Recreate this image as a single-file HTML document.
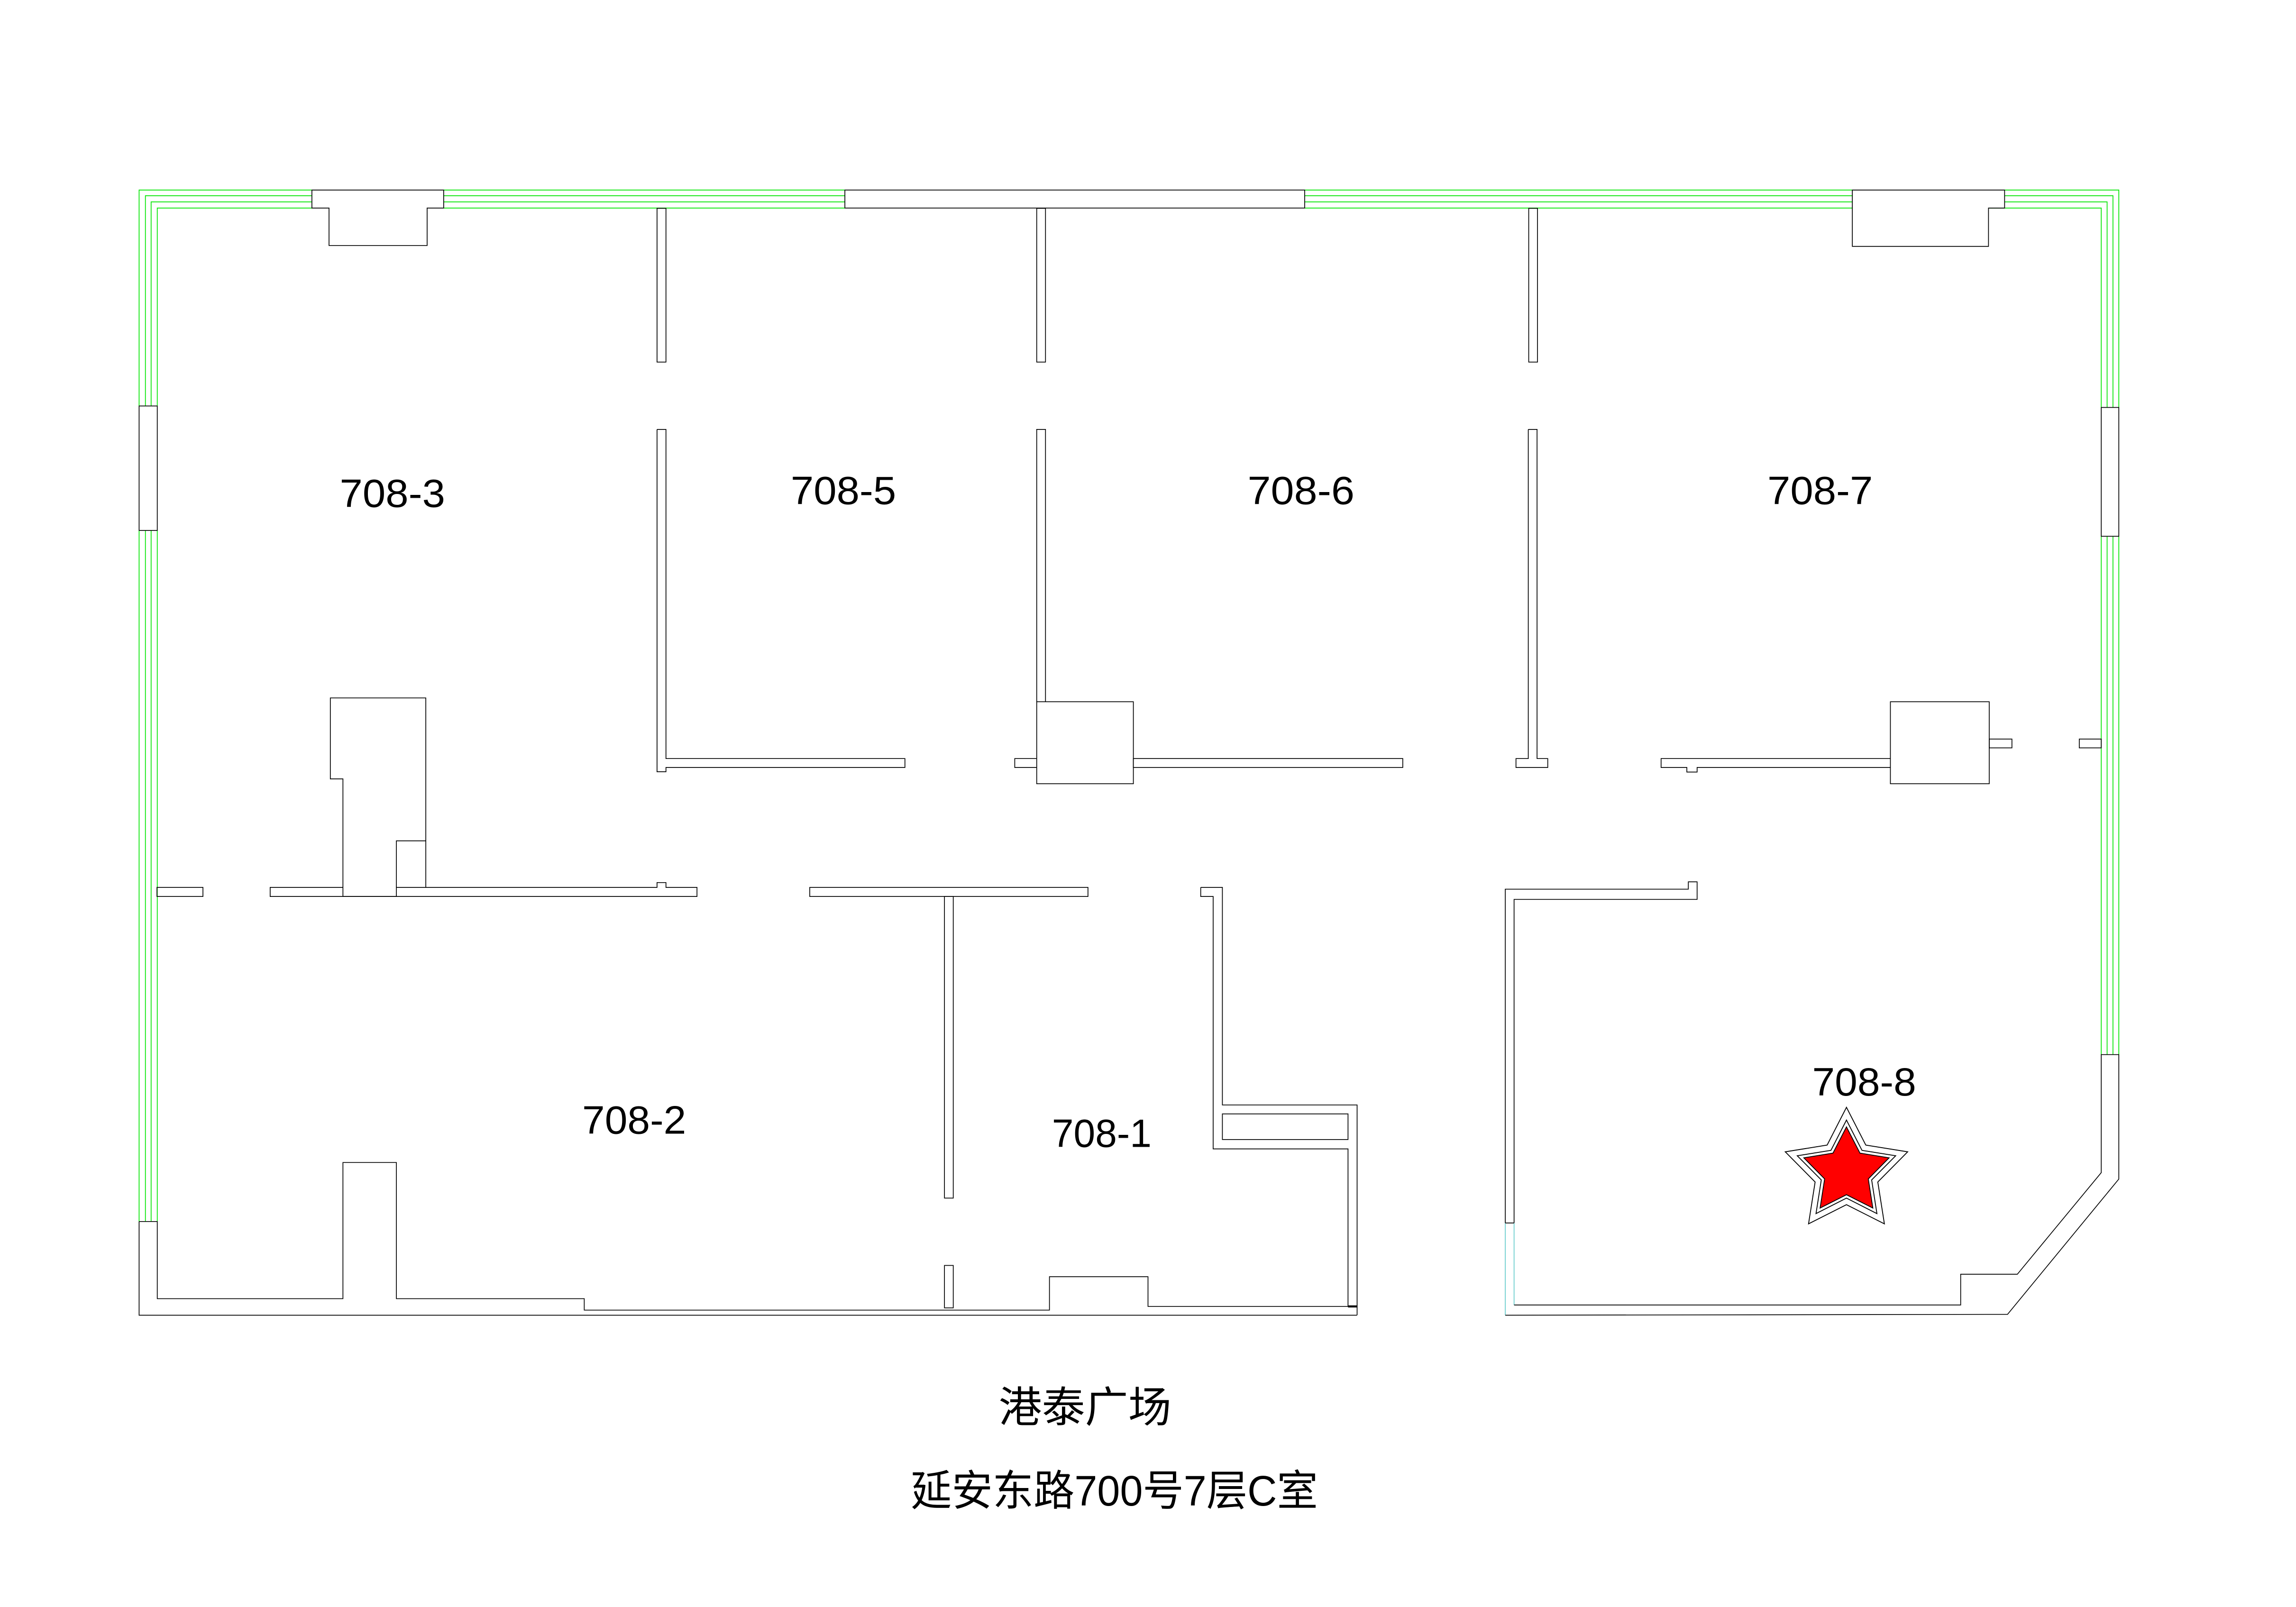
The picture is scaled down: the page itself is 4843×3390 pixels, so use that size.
<!DOCTYPE html>
<html><head><meta charset="utf-8"><style>
html,body{margin:0;padding:0;background:#fff;}
svg{display:block;}
text{font-family:"Liberation Sans","Noto Sans CJK SC",sans-serif;fill:#000;}
</style></head><body>
<svg width="4843" height="3390" viewBox="0 0 1568 1097" xmlns="http://www.w3.org/2000/svg">
<rect width="1568" height="1097" fill="#fff"/>
<g fill="none" stroke-width="0.55">
<g stroke="#00e600">
<polyline points="95,277 95,129.5 213,129.5"/>
<polyline points="99.3,277 99.3,133.4 213,133.4"/>
<polyline points="103.2,277 103.2,137.6 213,137.6"/>
<polyline points="107.4,277 107.4,141.8 213,141.8"/>
<line x1="303" y1="129.5" x2="577" y2="129.5"/>
<line x1="303" y1="133.4" x2="577" y2="133.4"/>
<line x1="303" y1="137.6" x2="577" y2="137.6"/>
<line x1="303" y1="141.8" x2="577" y2="141.8"/>
<line x1="891" y1="129.5" x2="1265" y2="129.5"/>
<line x1="891" y1="133.4" x2="1265" y2="133.4"/>
<line x1="891" y1="137.6" x2="1265" y2="137.6"/>
<line x1="891" y1="141.8" x2="1265" y2="141.8"/>
<polyline points="1369,129.5 1447,129.5 1447,278"/>
<polyline points="1369,133.4 1443,133.4 1443,278"/>
<polyline points="1369,137.6 1439,137.6 1439,278"/>
<polyline points="1358,141.8 1435,141.8 1435,278"/>
<line x1="95" y1="362" x2="95" y2="834"/>
<line x1="107.4" y1="362" x2="107.4" y2="834"/>
<line x1="99.3" y1="362" x2="99.3" y2="834"/>
<line x1="103.2" y1="362" x2="103.2" y2="834"/>
<line x1="1435" y1="366" x2="1435" y2="720"/>
<line x1="1439" y1="366" x2="1439" y2="720"/>
<line x1="1443" y1="366" x2="1443" y2="720"/>
<line x1="1447" y1="366" x2="1447" y2="720"/>
</g>
<g stroke="#66cccc"><line x1="1028" y1="835" x2="1028" y2="898"/><line x1="1034" y1="835" x2="1034" y2="891"/></g>
<g stroke="#000">
<polygon points="213,129.5 303,129.5 303,141.8 291.7,141.8 291.7,167.4 224.7,167.4 224.7,141.8 213,141.8"/>
<rect x="577" y="129.5" width="314" height="12.3"/>
<polygon points="1265,129.5 1369,129.5 1369,141.8 1358,141.8 1358,168 1265,168"/>
<rect x="95" y="277" width="12.4" height="85"/>
<rect x="1435" y="278" width="12" height="88"/>
<rect x="448.7" y="142" width="6.1" height="105"/>
<rect x="708" y="142" width="6" height="105"/>
<rect x="1044" y="142" width="6" height="105"/>
<polyline points="448.7,293 454.8,293 454.8,517.8 618,517.8 618,523.9 454.8,523.9 454.8,526.8 448.7,526.8 448.7,293"/>
<polyline points="708,479 708,293 714,293 714,479"/>
<rect x="708" y="479" width="66" height="56"/>
<rect x="774" y="517.8" width="184" height="6.1"/>
<polyline points="708,517.8 693,517.8 693,523.9 708,523.9"/>
<polyline points="1043.7,293 1049.7,293 1049.7,517.8 1057,517.8 1057,523.9 1035.3,523.9 1035.3,517.8 1043.7,517.8 1043.7,293"/>
<polyline points="1291,517.8 1134.4,517.8 1134.4,523.9 1152,523.9 1152,527 1159,527 1159,523.9 1291,523.9"/>
<rect x="1291" y="479" width="67.5" height="56"/>
<rect x="1358.5" y="504.5" width="15.5" height="6"/>
<rect x="1420" y="504.5" width="15" height="6"/>
<rect x="107.2" y="605.8" width="31.4" height="6.2"/>
<polyline points="234.2,605.8 184.5,605.8 184.5,612 476,612 476,605.8 454.8,605.8 454.8,602.5 448.7,602.5 448.7,605.8 290.8,605.8"/>
<polygon points="225.6,476.4 290.8,476.4 290.8,605.8 270.7,605.8 270.7,612 234.2,612 234.2,531.7 225.6,531.7"/>
<polyline points="270.7,605.8 270.7,574 290.8,574"/>
<rect x="553" y="605.8" width="190" height="6.2"/>
<rect x="645" y="612" width="6" height="206"/>
<rect x="645" y="864" width="6" height="29"/>
<polyline points="820,605.8 834.8,605.8 834.8,754.4 926.8,754.4 926.8,897.9"/>
<polyline points="920.6,892 920.6,784.4 828.5,784.4 828.5,612 820,612 820,605.8"/>
<rect x="834.8" y="760.5" width="85.8" height="17.5"/>
<line x1="920.6" y1="892" x2="927" y2="892" stroke-width="1.4"/>
<polyline points="95,834 95,898 926.8,898"/>
<polyline points="95,834 107.4,834 107.4,886.7 234.2,886.7 234.2,793.7 270.7,793.7 270.7,886.7 399,886.7 399,894.5 716.7,894.5 716.7,871.7 784,871.7 784,892 920.6,892"/>
<polyline points="1028,835 1028,607 1153,607 1153,602 1159,602 1159,614 1034,614 1034,835"/>
<line x1="1028" y1="835" x2="1034" y2="835"/>
<polyline points="1028,898 1371,897.4 1447,805 1447,720 1435,720 1435,800.6 1377.7,870 1339,870 1339,891 1034,891"/>
</g>
</g>
<g transform="translate(1261,800)" stroke="#000" stroke-width="0.6">
<polygon fill="none" points="0,-44 13.2,-18.2 41.8,-13.6 21.4,7 25.9,35.6 0,22.5 -25.9,35.6 -21.4,7 -41.8,-13.6 -13.2,-18.2"/>
<polygon fill="none" points="0,-35.3 10.6,-14.6 33.6,-10.9 17.2,5.6 20.8,28.6 0,18 -20.8,28.6 -17.2,5.6 -33.6,-10.9 -10.6,-14.6"/>
<polygon fill="#ff0000" points="0,-30.6 9.2,-12.7 29.1,-9.5 14.9,4.9 18,24.8 0,15.7 -18,24.8 -14.9,4.9 -29.1,-9.5 -9.2,-12.7"/>
</g>
<g font-size="27">
<text x="232" y="346" textLength="72" lengthAdjust="spacingAndGlyphs">708-3</text>
<text x="540" y="344" textLength="72" lengthAdjust="spacingAndGlyphs">708-5</text>
<text x="852" y="344" textLength="73" lengthAdjust="spacingAndGlyphs">708-6</text>
<text x="1207" y="344" textLength="72" lengthAdjust="spacingAndGlyphs">708-7</text>
<text x="397.6" y="774" textLength="71" lengthAdjust="spacingAndGlyphs">708-2</text>
<text x="718.4" y="783" textLength="68" lengthAdjust="spacingAndGlyphs">708-1</text>
<text x="1237.6" y="748" textLength="71" lengthAdjust="spacingAndGlyphs">708-8</text>
</g>
<text x="682" y="971" font-size="29" textLength="118" lengthAdjust="spacingAndGlyphs">港泰广场</text>
<text x="622" y="1028" font-size="29" textLength="278" lengthAdjust="spacingAndGlyphs">延安东路700号7层C室</text>
</svg>
</body></html>
